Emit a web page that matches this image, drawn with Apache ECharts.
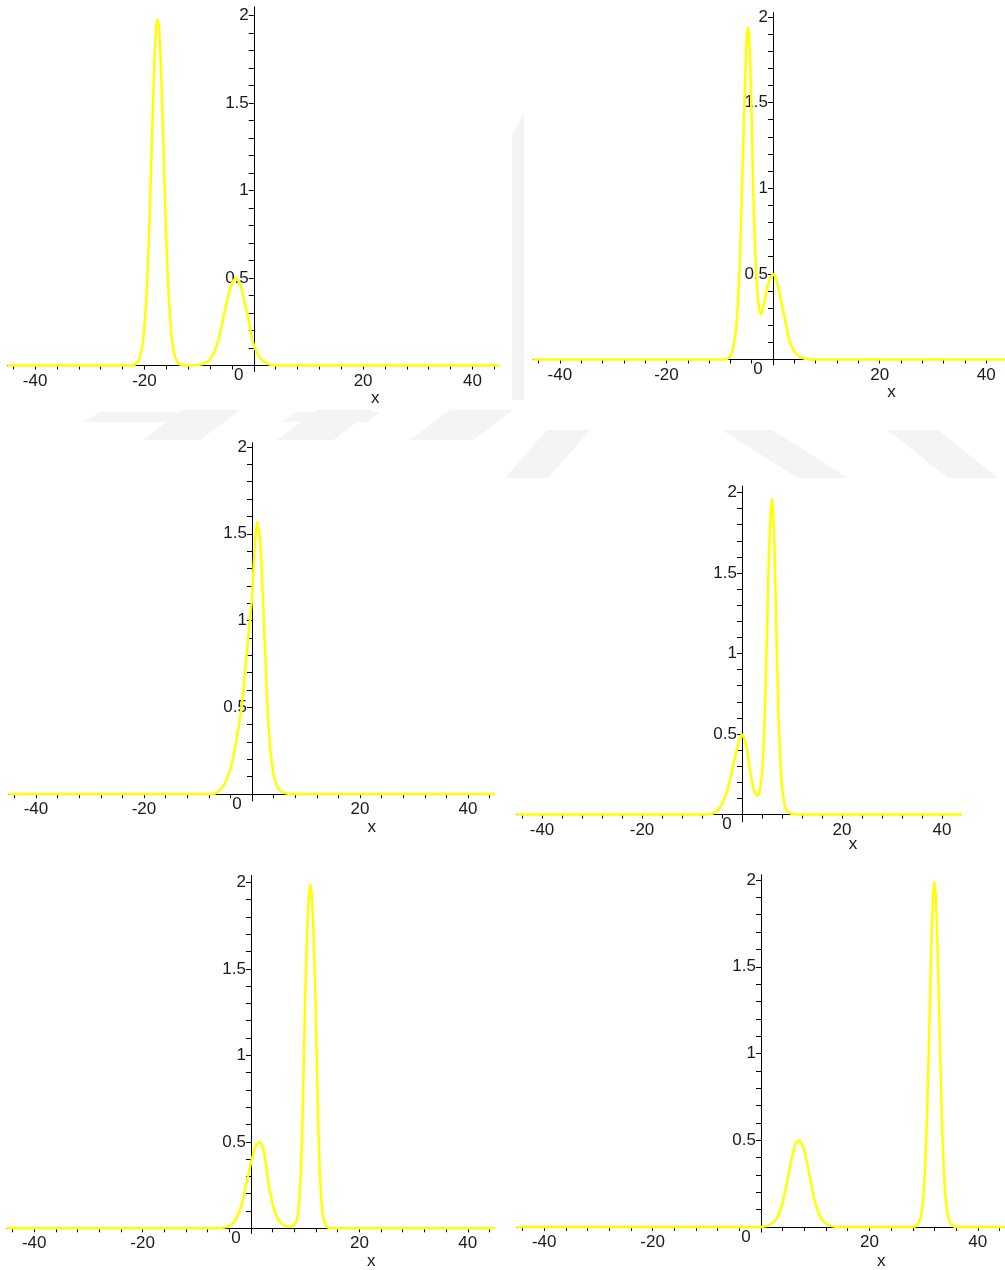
<!DOCTYPE html>
<html>
<head>
<meta charset="utf-8">
<script src="https://cdn.jsdelivr.net/npm/echarts@6/dist/echarts.min.js"></script>
<style>
html,body{margin:0;padding:0;background:#ffffff;}
#c{width:1005px;height:1270px;}
</style>
</head>
<body>
<div id="c"></div>
<script>
// ---- tick / label values ----
const X_LABELS = [-40, -20, 20, 40];
const X_TICKS = [-44,-40,-36,-32,-28,-24,-20,-16,-12,-8,-4,4,8,12,16,20,24,28,32,36,40,44];
const Y_LABELS = [0.5, 1, 1.5, 2];
const Y_TICKS = [0.1,0.2,0.3,0.4,0.5,0.6,0.7,0.8,0.9,1.0,1.1,1.2,1.3,1.4,1.5,1.6,1.7,1.8,1.9,2.0];
const X_NAME = 'x';
const X_NAME_AT = 22.2;

// ---- curve samples: [x, u] ----
const PANEL1 = [[-45,0],[-22.1,0],[-21.6,0.008],[-21.1,0.025],[-20.6,0.075],[-20.35,0.12],[-20.1,0.19],[-19.85,0.29],[-19.6,0.42],[-19.35,0.59],[-19.1,0.81],[-18.85,1.06],[-18.6,1.33],[-18.35,1.58],[-18.1,1.80],[-17.85,1.94],[-17.6,1.98],[-17.35,1.94],[-17.1,1.80],[-16.85,1.58],[-16.6,1.33],[-16.35,1.06],[-16.1,0.81],[-15.85,0.59],[-15.6,0.42],[-15.35,0.29],[-15.1,0.19],[-14.85,0.12],[-14.6,0.075],[-14.1,0.025],[-13.6,0.008],[-13.1,0],[-11.3,0],[-10.3,0.003],[-9.3,0.009],[-8.3,0.026],[-7.8,0.043],[-7.3,0.07],[-6.8,0.11],[-6.3,0.165],[-5.8,0.235],[-5.3,0.31],[-4.8,0.38],[-4.3,0.445],[-3.8,0.485],[-3.3,0.50],[-2.8,0.485],[-2.3,0.445],[-1.8,0.38],[-1.3,0.31],[-0.8,0.235],[-0.3,0.15],[0.2,0.10],[0.7,0.065],[1.2,0.04],[1.7,0.024],[2.7,0.008],[3.7,0.002],[4.7,0],[45,0]];

const PANEL2 = [[-45,0],[-9,0],[-8.5,0.005],[-8,0.02],[-7.5,0.06],[-7,0.16],[-6.75,0.25],[-6.5,0.38],[-6.25,0.55],[-6,0.80],[-5.75,1.08],[-5.5,1.35],[-5.25,1.62],[-5,1.84],[-4.75,1.94],[-4.5,1.90],[-4.25,1.70],[-4,1.40],[-3.75,1.02],[-3.5,0.76],[-3.25,0.56],[-3,0.42],[-2.75,0.33],[-2.5,0.28],[-2.25,0.26],[-2,0.27],[-1.5,0.35],[-1,0.43],[-0.5,0.48],[0,0.50],[0.5,0.48],[1,0.42],[1.5,0.34],[2,0.27],[2.5,0.19],[3,0.12],[3.5,0.075],[4,0.045],[5,0.015],[6,0.004],[7,0],[45,0]];

const PANEL3 = [[-45,0],[-7,0],[-6,0.02],[-5,0.06],[-4,0.14],[-3.5,0.21],[-3,0.29],[-2.5,0.38],[-2,0.48],[-1.5,0.63],[-1,0.80],[-0.5,0.97],[0,1.12],[0.25,1.28],[0.5,1.42],[0.75,1.53],[1,1.57],[1.25,1.57],[1.5,1.47],[1.75,1.33],[2,1.15],[2.25,0.95],[2.5,0.77],[2.75,0.58],[3,0.43],[3.25,0.31],[3.5,0.22],[4,0.11],[4.5,0.055],[5,0.025],[6,0.006],[7,0],[45,0]];

const PANEL4 = [[-45,0],[-7,0],[-6,0.005],[-5,0.02],[-4,0.065],[-3,0.14],[-2.5,0.2],[-2,0.27],[-1.5,0.34],[-1,0.41],[-0.5,0.47],[0,0.50],[0.5,0.47],[1,0.41],[1.5,0.30],[2,0.20],[2.5,0.14],[3,0.115],[3.5,0.13],[4,0.25],[4.25,0.38],[4.5,0.56],[4.75,0.82],[5,1.13],[5.25,1.48],[5.5,1.72],[5.75,1.88],[6,1.96],[6.25,1.86],[6.5,1.66],[6.75,1.32],[7,0.98],[7.25,0.66],[7.5,0.45],[7.75,0.29],[8,0.17],[8.5,0.06],[9,0.02],[10,0.003],[11,0],[45,0]];

const PANEL5 = [[-45,0],[-6,0],[-5,0.004],[-4,0.012],[-3,0.04],[-2.5,0.07],[-2,0.11],[-1.5,0.16],[-1,0.24],[-0.5,0.31],[0,0.38],[0.5,0.44],[1,0.485],[1.5,0.50],[2,0.485],[2.5,0.43],[3,0.31],[3.5,0.21],[4,0.14],[4.5,0.085],[5,0.05],[5.5,0.03],[6,0.018],[6.5,0.012],[7,0.01],[7.5,0.012],[7.95,0.017],[8.45,0.048],[8.7,0.092],[8.95,0.18],[9.2,0.32],[9.45,0.55],[9.7,0.90],[9.95,1.27],[10.2,1.56],[10.45,1.78],[10.7,1.93],[10.95,1.99],[11.2,1.93],[11.45,1.78],[11.7,1.56],[11.95,1.27],[12.2,0.90],[12.45,0.55],[12.7,0.32],[12.95,0.18],[13.2,0.09],[13.45,0.045],[13.95,0.01],[14.45,0],[45,0]];

const PANEL6 = [[-45,0],[0,0],[1,0.005],[2,0.018],[2.5,0.032],[3,0.055],[3.5,0.09],[4,0.14],[4.5,0.21],[5,0.29],[5.5,0.37],[6,0.44],[6.5,0.485],[7,0.50],[7.5,0.485],[8,0.44],[8.5,0.37],[9,0.29],[9.5,0.21],[10,0.14],[10.5,0.09],[11,0.055],[11.5,0.032],[12,0.018],[13,0.005],[14,0],[28,0],[28.5,0.004],[29,0.018],[29.5,0.06],[29.75,0.11],[30,0.19],[30.25,0.32],[30.5,0.51],[30.75,0.77],[31,1.07],[31.25,1.40],[31.5,1.70],[31.75,1.91],[32,1.99],[32.25,1.91],[32.5,1.70],[32.75,1.40],[33,1.07],[33.25,0.77],[33.5,0.51],[33.75,0.32],[34,0.19],[34.25,0.11],[34.5,0.06],[35,0.018],[35.5,0.004],[36,0],[45,0]];

const PANELS = [PANEL1, PANEL2, PANEL3, PANEL4, PANEL5, PANEL6];

// ---- layout (pixels) and axis extents for each panel ----
const LAYOUT = [
  {left: 7.8,   top: 6.8,   width: 489.8, height: 364.9, xmin: -45, xmax: 44.6, ymin: -0.035, ymax: 2.05,  nameDy: 34},
  {left: 533.2, top: 12.6,  width: 479.7, height: 352.4, xmin: -45, xmax: 45,   ymin: -0.032, ymax: 2.025, nameDy: 33.5},
  {left: 9.0,   top: 442.7, width: 483.8, height: 358.3, xmin: -45, xmax: 44.6, ymin: -0.04,  ymax: 2.025, nameDy: 34},
  {left: 517.0, top: 486.1, width: 443.0, height: 335.7, xmin: -45, xmax: 43.6, ymin: -0.045, ymax: 2.04,  nameDy: 31},
  {left: 7.1,   top: 875.4, width: 485.6, height: 358.1, xmin: -45, xmax: 44.6, ymin: -0.03,  ymax: 2.04,  nameDy: 34},
  {left: 517.1, top: 874.8, width: 487.8, height: 357.4, xmin: -45, xmax: 45,   ymin: -0.03,  ymax: 2.03,  nameDy: 35}
];

// Faint background watermark bands (pixel polygons)
const WATERMARK = [
  [[512,135],[524,112],[524,400],[512,400]],
  [[505,478],[548,478],[590,430],[547,430]],
  [[722,430],[772,430],[848,478],[798,478]],
  [[888,430],[938,430],[998,478],[948,478]],
  [[83,422],[200,422],[214,412],[100,412]],
  [[283,422],[367,422],[380,412],[296,412]],
  [[143,440],[200,440],[240,410],[183,410]],
  [[277,440],[333,440],[373,410],[317,410]],
  [[410,440],[473,440],[513,410],[450,410]]
];

const FONT = "'Liberation Sans', Arial, Helvetica, sans-serif";
const TXT = '#1a1a1a';
const AX = '#000000';

// pixel offsets that put each axis through the other's zero
function zeroX(L) { return (0 - L.xmin) / (L.xmax - L.xmin) * L.width; }
function zeroYFromBottom(L) { return (0 - L.ymin) / (L.ymax - L.ymin) * L.height; }

const chart = echarts.init(document.getElementById('c'), null, {renderer: 'canvas'});

const option = {
  animation: false,
  backgroundColor: '#ffffff',
  grid: LAYOUT.map(L => ({left: L.left, top: L.top, width: L.width, height: L.height, containLabel: false, outerBoundsMode: 'none'})),
  xAxis: LAYOUT.map((L, i) => ({
    type: 'value', gridIndex: i, min: L.xmin, max: L.xmax, position: 'bottom',
    offset: -zeroYFromBottom(L),
    axisLine: {show: true, onZero: false, lineStyle: {color: AX, width: 1}},
    axisTick: {show: true, length: 4, inside: false, customValues: X_TICKS, lineStyle: {color: AX, width: 1}},
    minorTick: {show: false},
    axisLabel: {show: true, customValues: X_LABELS, margin: 7, color: TXT, fontFamily: FONT, fontSize: 17},
    splitLine: {show: false}
  })),
  yAxis: LAYOUT.map((L, i) => ({
    type: 'value', gridIndex: i, min: L.ymin, max: L.ymax, position: 'left',
    offset: -zeroX(L),
    axisLine: {show: true, onZero: false, lineStyle: {color: AX, width: 1}},
    axisTick: {show: true, length: 5, inside: false, customValues: Y_TICKS, lineStyle: {color: AX, width: 1}},
    minorTick: {show: false},
    axisLabel: {show: true, customValues: Y_LABELS, margin: 5, color: TXT, fontFamily: FONT, fontSize: 17},
    splitLine: {show: false}
  })),
  series: PANELS.map((d, i) => ({
    type: 'line', xAxisIndex: i, yAxisIndex: i, data: d,
    showSymbol: false, symbol: 'none', smooth: false, clip: true,
    lineStyle: {color: '#ffff00', width: 2.5},
    z: 5
  }))
};
chart.setOption(option);

const g = WATERMARK.map(pts => ({
  type: 'polygon', z: -10, silent: true,
  shape: {points: pts},
  style: {fill: '#f4f4f4'}
}));
LAYOUT.forEach((L, i) => {
  const o = chart.convertToPixel({gridIndex: i}, [0, 0]);
  const n = chart.convertToPixel({gridIndex: i}, [X_NAME_AT, 0]);
  g.push({type: 'text', x: o[0] - 15, y: o[1] + 10, z: 1,
    style: {text: '0', font: '17px ' + FONT, fill: TXT, align: 'center', verticalAlign: 'middle', textAlign: 'center', textVerticalAlign: 'middle'}});
  g.push({type: 'text', x: n[0], y: n[1] + L.nameDy - 1, z: 1,
    style: {text: X_NAME, font: '17px ' + FONT, fill: TXT, align: 'center', verticalAlign: 'middle', textAlign: 'center', textVerticalAlign: 'middle'}});
});
chart.setOption({graphic: g});
</script>
</body>
</html>
